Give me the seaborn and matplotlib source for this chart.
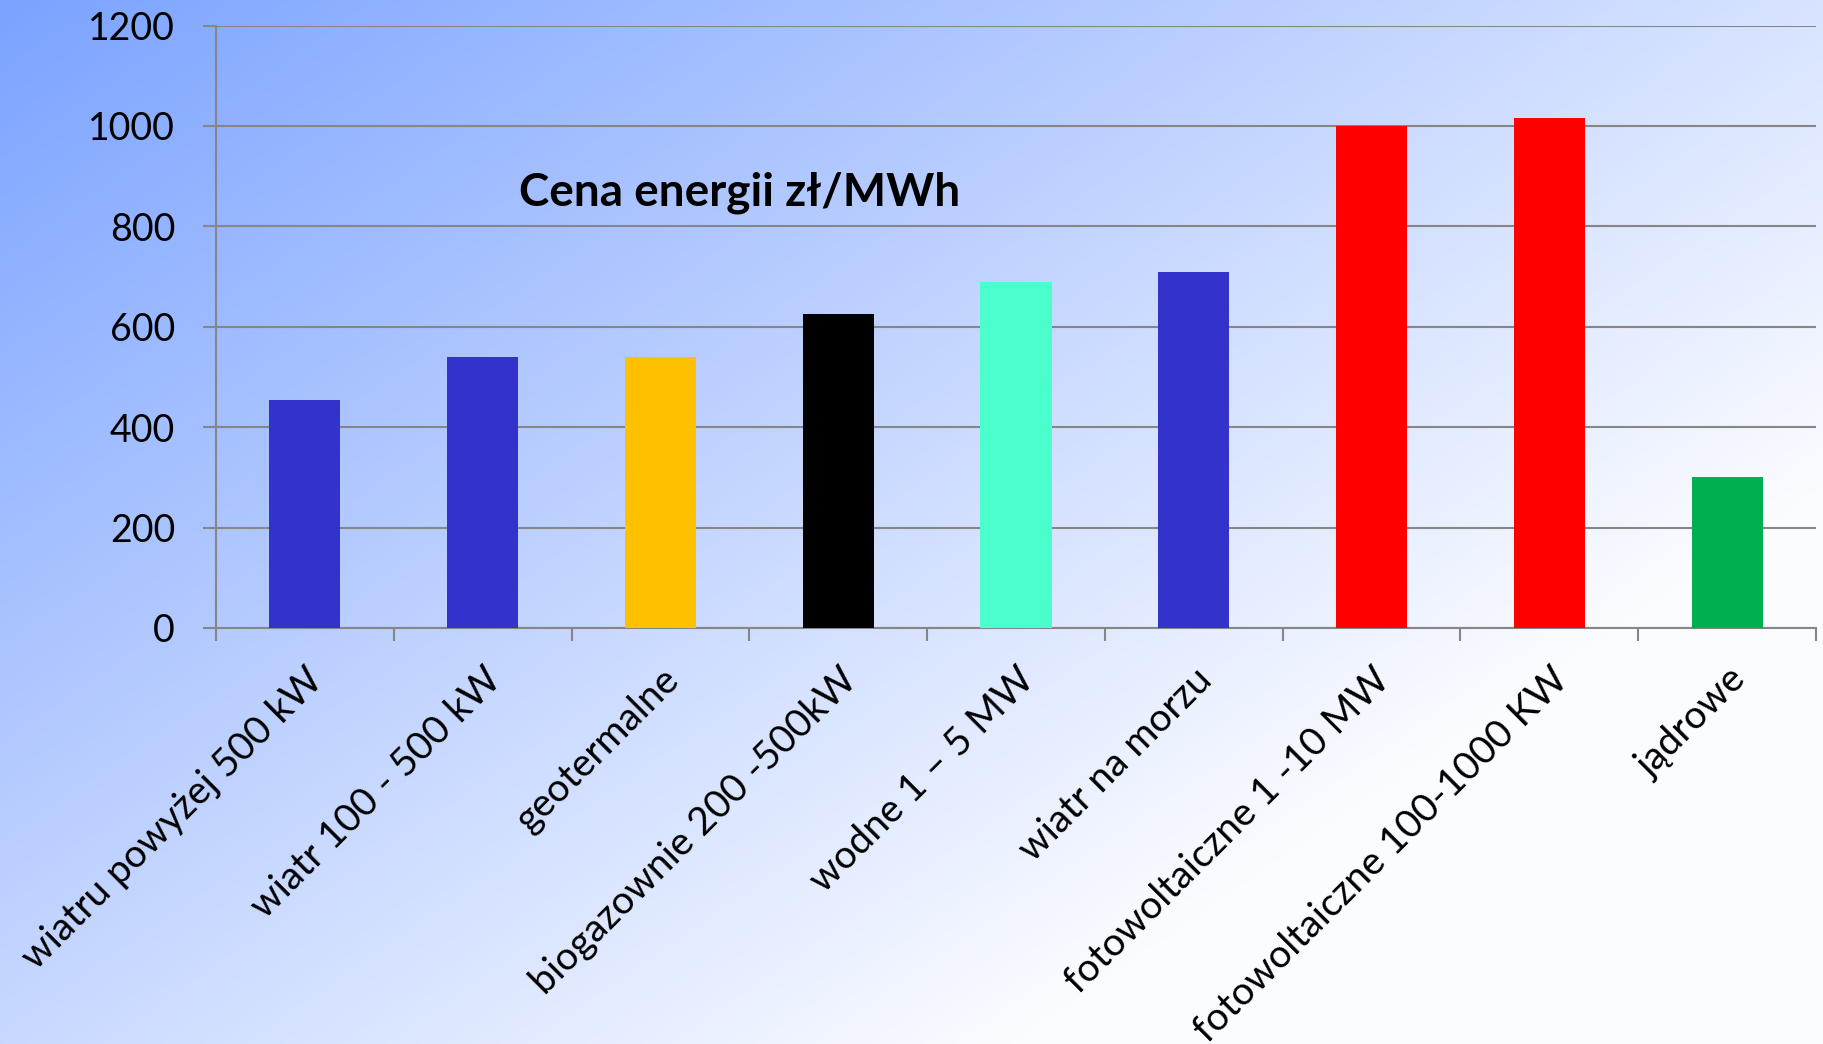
import numpy as np
import pandas as pd
import matplotlib
matplotlib.use("Agg")
import matplotlib.pyplot as plt
import seaborn as sns

categories = [
    "wiatru powyżej 500 kW",
    "wiatr 100 - 500 kW",
    "geotermalne",
    "biogazownie 200 -500kW",
    "wodne 1 \u2013 5 MW",
    "wiatr na morzu",
    "fotowoltaiczne 1 -10 MW",
    "fotowoltaiczne 100-1000 KW",
    "jądrowe",
]
prices = [455, 540, 540, 626, 690, 710, 1000, 1015, 300]
bar_colors = ["#3333CC", "#3333CC", "#FFC000", "#000000", "#4BFFCC",
              "#3333CC", "#FF0000", "#FF0000", "#00B050"]
y_ticks = [0, 200, 400, 600, 800, 1000, 1200]
title_text = "Cena energii zł/MWh"

sns.set_theme(style="white")
plt.rcParams["font.family"] = ["Lato", "DejaVu Sans"]

W, H = 1823, 1044
fig = plt.figure(figsize=(W / 100, H / 100), dpi=100)

# diagonal blue-to-white background
bg = fig.add_axes([0, 0, 1, 1], zorder=-10)
xx, yy = np.meshgrid(np.linspace(0, 1, 400), np.linspace(0, 1, 240))
t = np.clip(0.72 * xx + 0.60 * yy, 0, 1)
c0 = np.array([123, 163, 255]) / 255.0
c1 = np.array([251, 252, 255]) / 255.0
img = c0[None, None, :] * (1 - t[..., None]) + c1[None, None, :] * t[..., None]
bg.imshow(img, aspect="auto", extent=[0, 1, 0, 1], origin="upper")
bg.set_axis_off()

ax = fig.add_axes([216 / W, 1 - 628 / H, 1600 / W, (628 - 25.6) / H])
ax.set_facecolor("none")

df = pd.DataFrame({"kategoria": categories, "cena": prices})
sns.barplot(data=df, x="kategoria", y="cena", hue="kategoria",
            palette=bar_colors, width=0.4, legend=False, ax=ax,
            saturation=1, linewidth=0, edgecolor="none", zorder=3)

ax.set_ylim(0, 1200)
ax.set_xlim(-0.5, len(categories) - 0.5)
ax.set_yticks(y_ticks)
ax.set_yticklabels([str(v) for v in y_ticks])
ax.yaxis.grid(True, color="#868686", linewidth=1.5, zorder=0)
ax.set_axisbelow(True)
ax.set_xlabel("")
ax.set_ylabel("")

grid_col = "#868686"
for side in ["top", "right"]:
    ax.spines[side].set_visible(False)
for side in ["left", "bottom"]:
    ax.spines[side].set_color(grid_col)
    ax.spines[side].set_linewidth(1.5)

# category boundary ticks on x
ax.set_xticks(np.arange(-0.5, len(categories), 1.0), minor=True)
ax.tick_params(axis="x", which="minor", length=9.5, width=1.5,
               color=grid_col, direction="out", bottom=True)
ax.tick_params(axis="x", which="major", length=0, pad=24)
ax.tick_params(axis="y", which="major", length=9.5, width=1.5,
               color=grid_col, direction="out", left=True, pad=20,
               labelsize=27, labelcolor="black")

ax.set_xticks(range(len(categories)))
ax.set_xticklabels(categories, rotation=45, ha="right",
                   rotation_mode="anchor", fontsize=28, color="black")

ax.text(0.327, 0.722, title_text, transform=ax.transAxes,
        ha="center", va="center", fontsize=33, fontweight="bold",
        color="black")

fig.savefig("out.png", dpi=100)
